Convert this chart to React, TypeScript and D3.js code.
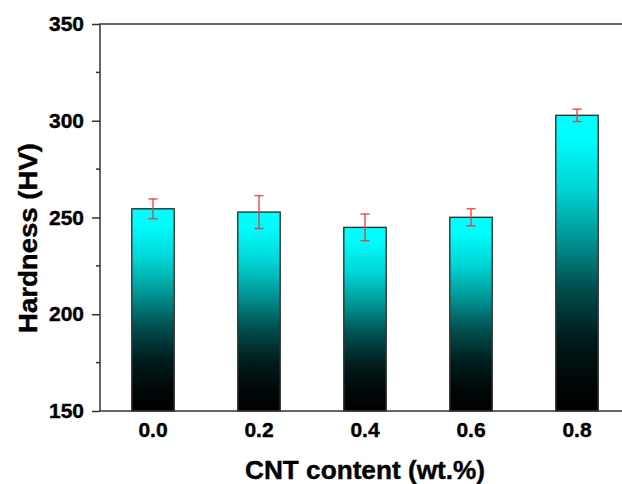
import React, { useEffect, useRef } from "react";
import * as d3 from "d3";

// values
const cntContent = [0.0, 0.2, 0.4, 0.6, 0.8];
const hardness = [254.5, 252.8, 244.9, 250.1, 302.8];
const hardnessErr = [5.1, 8.5, 6.9, 4.4, 3.2];
const yTicks = [150, 200, 250, 300, 350];
const yMinorTicks = [175, 225, 275, 325];

export default function App() {
  const ref = useRef<SVGSVGElement>(null);

  useEffect(() => {
    const width = 622;
    const height = 484;
    const margin = { top: 24, left: 100, bottom: 73 };
    const font = "Liberation Sans, Arial, sans-serif";

    const svg = d3.select(ref.current);
    svg.selectAll("*").remove();

    const x = d3.scaleLinear().domain([-0.1, 0.9]).range([margin.left, 630]);
    const y = d3.scaleLinear().domain([150, 350]).range([height - margin.bottom, margin.top]);
    const barW = x(0.08) - x(0);

    // bar gradient, cyan at the top to black at the bottom
    const grad = svg.append("defs").append("linearGradient")
      .attr("id", "barGrad")
      .attr("x1", 0).attr("y1", 0).attr("x2", 0).attr("y2", 1);
    const stops: [number, string][] = [
      [0, "#00ffff"], [0.08, "#00fcfc"], [0.25, "#00d4d4"], [0.42, "#009494"],
      [0.58, "#005050"], [0.75, "#001c1c"], [0.9, "#000707"], [1, "#000000"],
    ];
    stops.forEach(([o, c]) => grad.append("stop").attr("offset", o).attr("stop-color", c));

    svg.append("rect")
      .attr("width", width).attr("height", height).attr("fill", "#fff");

    // bars
    svg.append("g").selectAll("rect")
      .data(cntContent)
      .join("rect")
      .attr("x", d => x(d) - barW / 2)
      .attr("y", (d, i) => y(hardness[i]))
      .attr("width", barW)
      .attr("height", (d, i) => y(150) - y(hardness[i]))
      .attr("fill", "url(#barGrad)")
      .attr("stroke", "#333")
      .attr("stroke-width", 1.4);

    // error bars
    const eb = svg.append("g")
      .attr("stroke", "#e83a3a")
      .attr("stroke-opacity", 0.85)
      .attr("stroke-width", 1.5);
    cntContent.forEach((d, i) => {
      const cx = x(d);
      const top = y(hardness[i] + hardnessErr[i]);
      const bot = y(hardness[i] - hardnessErr[i]);
      eb.append("line").attr("x1", cx).attr("x2", cx).attr("y1", top).attr("y2", bot);
      eb.append("line").attr("x1", cx - 4.5).attr("x2", cx + 4.5).attr("y1", top).attr("y2", top);
      eb.append("line").attr("x1", cx - 4.5).attr("x2", cx + 4.5).attr("y1", bot).attr("y2", bot);
    });

    // frame
    svg.append("rect")
      .attr("x", x(-0.1)).attr("y", y(350))
      .attr("width", x(0.9) - x(-0.1)).attr("height", y(150) - y(350))
      .attr("fill", "none").attr("stroke", "#333").attr("stroke-width", 1.5);

    // y axis
    const yAxis = svg.append("g")
      .attr("transform", `translate(${margin.left},0)`)
      .call(d3.axisLeft(y).tickValues(yTicks).tickSize(8).tickPadding(8));
    yAxis.select(".domain").remove();
    yAxis.selectAll("line").attr("stroke", "#333").attr("stroke-width", 1.5);
    yAxis.selectAll("text")
      .attr("font-family", font)
      .attr("font-weight", "bold")
      .attr("font-size", 21)
      .attr("fill", "#000")
      .attr("stroke", "#000")
      .attr("stroke-width", 0.4);

    svg.append("g")
      .selectAll("line")
      .data(yMinorTicks)
      .join("line")
      .attr("x1", margin.left - 4).attr("x2", margin.left)
      .attr("y1", d => y(d)).attr("y2", d => y(d))
      .attr("stroke", "#333").attr("stroke-width", 1.5);

    // x tick labels
    svg.append("g").selectAll("text")
      .data(cntContent)
      .join("text")
      .attr("x", d => x(d))
      .attr("y", 437)
      .attr("text-anchor", "middle")
      .attr("font-family", font)
      .attr("font-weight", "bold")
      .attr("font-size", 21)
      .attr("stroke", "#000")
      .attr("stroke-width", 0.4)
      .text(d => d3.format(".1f")(d));

    // axis titles
    svg.append("text")
      .attr("x", 365).attr("y", 479)
      .attr("text-anchor", "middle")
      .attr("font-family", font)
      .attr("font-weight", "bold")
      .attr("font-size", 25)
      .attr("textLength", 240)
      .attr("lengthAdjust", "spacingAndGlyphs")
      .attr("stroke", "#000")
      .attr("stroke-width", 0.4)
      .text("CNT content (wt.%)");

    svg.append("text")
      .attr("transform", "translate(37,238) rotate(-90)")
      .attr("text-anchor", "middle")
      .attr("font-family", font)
      .attr("font-weight", "bold")
      .attr("font-size", 25)
      .attr("textLength", 190)
      .attr("lengthAdjust", "spacingAndGlyphs")
      .attr("stroke", "#000")
      .attr("stroke-width", 0.4)
      .text("Hardness (HV)");
  }, []);

  return (
    <svg ref={ref} width={622} height={484}
      style={{ position: "absolute", left: 0, top: 0, display: "block" }} />
  );
}
